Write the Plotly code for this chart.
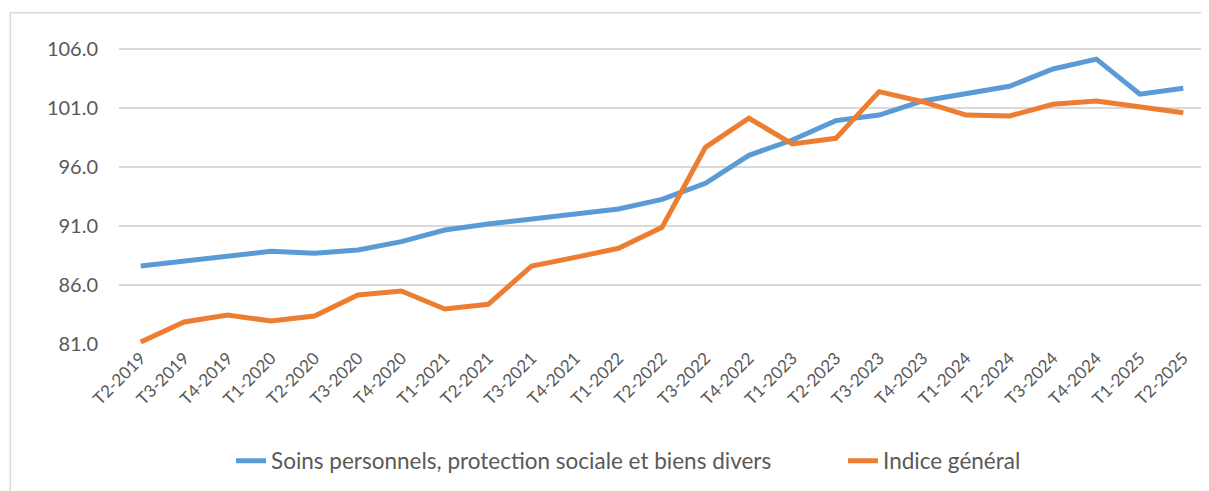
import plotly.graph_objects as go

categories = ["T2-2019", "T3-2019", "T4-2019", "T1-2020", "T2-2020", "T3-2020", "T4-2020",
              "T1-2021", "T2-2021", "T3-2021", "T4-2021", "T1-2022", "T2-2022", "T3-2022",
              "T4-2022", "T1-2023", "T2-2023", "T3-2023", "T4-2023", "T1-2024", "T2-2024",
              "T3-2024", "T4-2024", "T1-2025", "T2-2025"]

soins = [87.6, 88.0, 88.45, 88.84, 88.67, 88.95, 89.66, 90.64, 91.15, 91.55, 92.0, 92.42,
         93.24, 94.6, 96.96, 98.26, 99.9, 100.37, 101.56, 102.23, 102.8, 104.27, 105.1,
         102.13, 102.63]

indice = [81.17, 82.86, 83.45, 82.95, 83.37, 85.15, 85.48, 83.96, 84.36, 87.6, 88.33, 89.1,
          90.87, 97.64, 100.1, 97.92, 98.4, 102.35, 101.5, 100.37, 100.29, 101.28, 101.56,
          101.08, 100.57]

y_ticks = [81.0, 86.0, 91.0, 96.0, 101.0, 106.0]

# page body has an 8px margin: the figure is drawn 8px lower/right
OFF = 8
W, H = 1209 - OFF, 491 - OFF
plot_left, plot_right, plot_top, plot_bottom = 118.5 - OFF, 1205.5 - OFF, 20 - OFF, 344 - OFF
ml, mr, mt, mb = plot_left, W - plot_right, plot_top, H - plot_bottom
FONT = "Lato, 'Open Sans', sans-serif"
TXT = "#595959"

fig = go.Figure()
fig.add_trace(go.Scatter(x=list(range(len(categories))), y=soins, mode="lines",
                         name="Soins personnels, protection sociale et biens divers",
                         line=dict(color="#5B9BD5", width=5), legend="legend"))
fig.add_trace(go.Scatter(x=list(range(len(categories))), y=indice, mode="lines",
                         name="Indice général",
                         line=dict(color="#ED7D31", width=5), legend="legend2"))

leg_common = dict(orientation="h", xref="container", xanchor="left",
                  y=(H - (461 - OFF)) / H, yref="container", yanchor="middle",
                  font=dict(size=22.5, color=TXT, family=FONT),
                  itemwidth=30, bgcolor="rgba(0,0,0,0)")
fig.update_layout(
    width=W, height=H,
    margin=dict(l=ml, r=mr, t=mt, b=mb, autoexpand=False),
    paper_bgcolor="white", plot_bgcolor="white",
    font=dict(family=FONT, color=TXT),
    showlegend=True,
    legend=dict(x=(281 - OFF - 50) / W, **leg_common),
    legend2=dict(x=(893 - OFF - 50) / W, **leg_common),
)
fig.update_xaxes(
    range=[-0.5, len(categories) - 0.5],
    tickmode="array", tickvals=list(range(len(categories))), ticktext=categories,
    tickangle=-45, tickfont=dict(size=17, color=TXT, family=FONT),
    showgrid=False, zeroline=False, showline=False, ticks="",
)
fig.update_yaxes(
    range=[81, 81 + (344 - 20) / 11.82],
    tickmode="array", tickvals=y_ticks, ticktext=[f"{v:.1f}" for v in y_ticks],
    tickfont=dict(size=20, color=TXT, family=FONT),
    showgrid=True, gridcolor="#D9D9D9", gridwidth=1.5,
    zeroline=False, showline=False, ticks="", ticklabelstandoff=20,
)
# chart area border (reference is cropped at right/bottom)
pw, ph = W - ml - mr, H - mt - mb
fig.add_shape(type="rect", xref="paper", yref="paper",
              x0=(9.7 - OFF - ml) / pw, x1=(W + 20 - ml) / pw,
              y0=-(H + 20 - plot_bottom) / ph, y1=(plot_bottom - (12.7 - OFF)) / ph,
              line=dict(color="#D9D9D9", width=1.5), fillcolor="rgba(0,0,0,0)", layer="below")

fig.write_html("out.html")
